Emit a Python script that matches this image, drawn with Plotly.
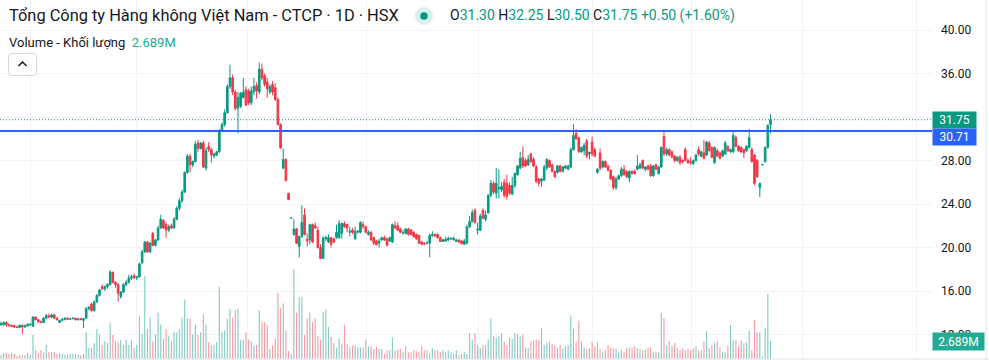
import plotly.graph_objects as go

# ---------------- data ----------------
opens = [
    12.9, 12.9, 13.1, 12.9, 12.85, 12.8, 12.7, 12.65, 12.85, 12.7,
    12.8, 12.9, 12.75, 13.6, 13.35, 13.15, 13.1, 13.5, 13.7, 13.6,
    13.8, 13.5, 13.1, 13.3, 13.4, 13.5, 13.4, 13.45, 13.5, 13.35,
    13.45, 13.3, 13.5, 14.4, 14.8, 14.2, 15.0, 15.6, 16.4, 16.2,
    16.4, 16.6, 17.7, 16.8, 16.6, 15.5, 15.9, 16.6, 16.8, 17.2,
    17.4, 17.2, 17.3, 18.6, 19.6, 20.5, 19.6, 21.3, 20.2, 20.7,
    21.8, 22.5, 22.1, 21.6, 22.0, 21.8, 22.6, 23.6, 24.3, 25.1,
    26.9, 28.4, 27.6, 27.9, 29.6, 29.1, 29.6, 27.3, 29.3, 29.0,
    28.4, 28.5, 28.8, 30.7, 31.3, 32.4, 34.8, 35.6, 34.3, 32.8,
    33.0, 33.8, 34.5, 34.4, 33.3, 34.3, 34.9, 34.3, 36.4, 35.8,
    35.2, 34.3, 35.0, 34.7, 33.6, 31.3, 27.3, 28.1, 25.0, 22.7,
    21.2, 21.7, 20.1, 21.0, 23.0, 20.75, 20.7, 22.1, 22.0, 21.6,
    20.0, 19.0, 20.8, 20.5, 20.9, 20.8, 20.9, 20.9, 21.3, 22.2,
    22.1, 21.4, 21.6, 20.8, 21.4, 21.4, 22.1, 21.9, 21.2, 21.4,
    20.9, 20.6, 20.4, 20.7, 20.9, 20.8, 20.6, 20.5, 22.0, 22.0,
    21.7, 21.3, 21.3, 21.7, 21.6, 21.4, 21.2, 21.1, 20.5, 20.4,
    20.35, 20.4, 21.1, 21.2, 21.2, 20.9, 20.55, 20.6, 20.7, 20.8,
    20.7, 20.55, 20.7, 20.6, 20.3, 20.4, 21.9, 22.4, 23.4, 21.6,
    21.6, 23.4, 22.6, 23.2, 24.8, 25.9, 25.0, 25.4, 25.3, 26.0,
    25.9, 25.7, 24.9, 25.7, 26.7, 27.3, 28.3, 28.0, 27.6, 28.6,
    28.1, 27.4, 26.3, 26.1, 26.2, 27.3, 28.0, 27.6, 27.0, 26.9,
    27.5, 27.0, 27.3, 27.2, 27.4, 29.0, 30.5, 30.1, 28.8, 28.9,
    29.8, 28.6, 29.7, 29.0, 26.9, 28.7, 27.4, 27.9, 27.5, 27.1,
    26.5, 25.5, 26.3, 26.6, 27.2, 27.0, 26.4, 27.0, 27.0, 27.2,
    27.3, 28.0, 27.2, 27.5, 27.5, 26.6, 27.6, 26.8, 27.4, 30.2,
    28.6, 29.0, 28.8, 28.4, 28.0, 28.3, 28.0, 29.0, 28.0, 27.9,
    27.7, 28.0, 29.0, 28.4, 28.7, 28.5, 29.6, 29.2, 27.8, 28.9,
    28.7, 28.4, 28.6, 29.3, 28.8, 28.8, 30.1, 29.3, 29.2, 29.0,
    28.9, 29.2, 29.0, 28.5, 28.05, 25.5, 27.6, 27.9, 29.2, 31.30,
]
highs = [
    13.2, 13.2, 13.2, 13.0, 12.9, 12.9, 12.8, 12.9, 12.9, 12.9,
    13.0, 13.0, 13.7, 13.65, 13.4, 13.3, 13.6, 13.9, 13.95, 13.9,
    13.9, 13.6, 13.35, 13.5, 13.55, 13.55, 13.5, 13.55, 13.55, 13.5,
    13.5, 13.5, 14.5, 14.6, 14.9, 15.1, 15.7, 16.2, 16.6, 16.5,
    16.7, 17.9, 17.8, 16.9, 16.7, 16.0, 16.7, 17.0, 17.5, 17.5,
    17.6, 17.4, 18.6, 19.8, 20.6, 20.6, 20.5, 21.4, 20.8, 22.0,
    23.0, 22.6, 22.3, 22.1, 22.2, 22.8, 23.8, 24.5, 25.3, 27.0,
    28.6, 28.6, 28.0, 29.8, 29.9, 29.7, 29.8, 29.2, 29.7, 29.2,
    28.7, 28.9, 30.9, 31.5, 32.7, 35.0, 36.8, 35.9, 34.5, 34.3,
    34.3, 35.6, 34.8, 34.6, 34.8, 35.6, 35.2, 37.0, 36.9, 36.0,
    35.6, 35.0, 35.3, 35.1, 33.8, 31.4, 29.1, 28.2, 25.0, 22.72,
    22.6, 21.8, 21.1, 23.9, 23.6, 21.3, 22.2, 22.2, 22.3, 21.9,
    20.3, 21.0, 21.1, 21.2, 20.95, 20.9, 22.1, 22.5, 22.3, 22.4,
    22.2, 21.9, 21.8, 21.9, 21.6, 22.4, 22.4, 22.0, 21.6, 21.5,
    21.0, 20.7, 20.8, 21.0, 21.1, 20.9, 21.0, 22.2, 22.4, 22.3,
    21.8, 21.6, 21.8, 21.8, 21.7, 21.5, 21.3, 21.2, 20.6, 20.5,
    20.6, 21.3, 21.5, 21.3, 21.3, 21.0, 20.8, 21.0, 21.0, 20.9,
    21.0, 20.8, 20.75, 20.7, 20.8, 22.1, 22.9, 23.5, 23.6, 22.3,
    23.1, 23.6, 23.4, 24.9, 26.2, 26.1, 27.3, 27.2, 26.0, 26.3,
    26.7, 26.0, 26.5, 26.9, 27.6, 28.8, 29.3, 28.2, 28.5, 28.7,
    28.3, 27.6, 26.4, 26.4, 27.6, 28.2, 28.1, 27.7, 27.1, 27.6,
    27.6, 27.5, 27.6, 27.6, 29.2, 31.35, 30.9, 30.2, 29.3, 29.6,
    30.0, 28.8, 30.2, 29.2, 27.3, 29.1, 28.0, 28.0, 27.6, 27.2,
    26.6, 26.5, 26.7, 27.4, 27.6, 27.1, 27.1, 27.1, 27.2, 28.5,
    27.8, 28.1, 27.5, 27.6, 27.7, 27.6, 27.7, 27.5, 29.3, 30.7,
    29.2, 29.1, 28.9, 28.5, 28.4, 28.5, 28.1, 29.2, 28.2, 28.3,
    28.1, 28.6, 29.3, 28.9, 29.9, 29.8, 29.8, 29.3, 29.3, 29.1,
    28.8, 29.0, 29.8, 29.4, 29.1, 30.8, 30.3, 29.4, 29.3, 29.1,
    29.4, 30.9, 29.2, 28.6, 28.1, 25.95, 27.62, 29.3, 31.3, 32.25,
]
lows = [
    12.8, 12.8, 12.7, 12.8, 12.7, 12.6, 12.6, 12.6, 12.05, 12.6,
    12.7, 12.8, 12.7, 13.3, 13.1, 13.05, 13.05, 13.4, 13.55, 13.5,
    13.45, 13.3, 13.05, 13.2, 13.3, 13.35, 13.35, 13.4, 13.3, 13.3,
    13.3, 12.6, 13.45, 14.2, 14.1, 14.1, 14.9, 15.5, 16.1, 16.0,
    16.2, 16.5, 16.7, 16.3, 15.0, 15.3, 15.8, 16.4, 16.7, 17.0,
    17.1, 17.0, 17.2, 18.5, 19.5, 19.5, 19.5, 20.1, 20.1, 20.6,
    21.7, 21.7, 20.9, 21.4, 21.7, 21.7, 22.5, 23.4, 24.1, 25.0,
    26.8, 26.9, 27.4, 27.8, 28.8, 29.0, 27.3, 27.1, 28.8, 27.8,
    28.2, 28.4, 28.7, 30.6, 31.1, 32.3, 34.6, 34.0, 32.6, 30.5,
    32.8, 33.7, 33.0, 33.1, 33.1, 34.0, 33.7, 34.1, 35.4, 34.8,
    33.8, 34.1, 34.0, 33.5, 31.2, 29.1, 27.2, 26.1, 24.4, 22.7,
    21.1, 20.3, 19.1, 20.9, 21.1, 20.1, 20.3, 20.4, 21.7, 19.9,
    18.95, 18.95, 20.6, 20.4, 20.0, 20.4, 20.8, 20.8, 20.8, 21.8,
    21.4, 21.0, 21.2, 20.7, 21.3, 21.3, 21.7, 21.3, 21.1, 20.6,
    20.2, 20.2, 20.0, 20.6, 20.6, 20.1, 20.5, 20.4, 21.7, 21.5,
    21.3, 21.2, 21.2, 21.1, 21.1, 20.9, 20.7, 20.3, 20.2, 20.2,
    20.3, 19.1, 21.0, 21.0, 20.8, 20.5, 20.5, 20.5, 20.6, 20.7,
    20.65, 20.5, 20.45, 20.3, 20.25, 20.3, 21.8, 22.3, 22.2, 21.2,
    21.5, 22.6, 22.4, 23.1, 24.6, 24.9, 24.5, 24.5, 25.1, 24.6,
    24.4, 24.8, 24.8, 25.5, 26.6, 27.2, 27.3, 27.4, 27.5, 27.8,
    27.4, 25.9, 25.6, 25.6, 26.1, 27.1, 27.3, 26.9, 26.4, 26.8,
    26.9, 26.9, 27.2, 27.1, 27.3, 28.9, 29.9, 28.7, 28.7, 28.5,
    28.2, 28.1, 28.4, 28.3, 26.8, 27.1, 27.3, 27.3, 27.0, 26.2,
    25.3, 25.3, 26.2, 26.5, 26.6, 26.4, 26.0, 26.7, 26.7, 27.1,
    27.2, 27.2, 27.0, 27.1, 26.5, 26.5, 27.1, 26.7, 27.3, 28.4,
    28.4, 28.4, 28.2, 27.8, 27.9, 27.6, 27.7, 27.9, 27.7, 27.6,
    27.6, 27.9, 28.4, 28.3, 28.1, 28.4, 28.8, 28.2, 27.7, 28.3,
    28.1, 28.3, 28.5, 28.8, 28.7, 28.7, 29.2, 28.8, 28.7, 28.2,
    28.8, 29.1, 27.8, 25.7, 26.4, 24.65, 27.6, 27.8, 29.1, 30.50,
]
closes = [
    13.0, 13.1, 12.9, 12.8, 12.75, 12.7, 12.65, 12.85, 12.7, 12.8,
    12.95, 12.95, 13.6, 13.35, 13.15, 13.1, 13.5, 13.75, 13.6, 13.8,
    13.5, 13.35, 13.3, 13.4, 13.5, 13.4, 13.45, 13.5, 13.35, 13.45,
    13.4, 13.45, 14.4, 14.5, 14.2, 15.0, 15.6, 16.1, 16.2, 16.4,
    16.6, 17.75, 16.8, 16.6, 15.8, 15.9, 16.6, 16.8, 17.2, 17.3,
    17.2, 17.3, 18.5, 19.6, 20.5, 19.6, 20.4, 20.2, 20.7, 21.8,
    22.6, 21.8, 21.6, 21.9, 21.8, 22.6, 23.6, 24.3, 25.1, 26.9,
    28.4, 27.6, 27.9, 29.5, 29.1, 29.6, 27.4, 28.9, 29.0, 28.5,
    28.6, 28.8, 30.7, 31.3, 32.4, 34.8, 35.6, 34.3, 32.8, 33.8,
    34.2, 34.3, 33.1, 33.3, 34.4, 34.8, 34.4, 36.4, 35.6, 35.0,
    34.6, 34.8, 34.3, 33.6, 31.3, 29.15, 28.1, 26.15, 24.4, 22.72,
    21.7, 20.4, 21.0, 22.3, 21.2, 20.6, 22.1, 20.5, 21.8, 20.0,
    19.0, 20.9, 20.9, 20.9, 20.3, 20.5, 21.4, 22.2, 22.2, 21.9,
    21.8, 21.5, 21.4, 21.5, 21.5, 22.3, 21.95, 21.4, 21.4, 20.7,
    20.4, 20.25, 20.6, 20.9, 20.7, 20.2, 20.9, 22.1, 21.8, 21.6,
    21.4, 21.35, 21.7, 21.2, 21.2, 21.0, 20.8, 20.4, 20.3, 20.35,
    20.4, 21.1, 21.2, 21.05, 20.9, 20.55, 20.7, 20.75, 20.85, 20.85,
    20.85, 20.7, 20.5, 20.35, 20.6, 21.9, 22.4, 23.2, 22.3, 21.7,
    22.9, 22.7, 23.0, 24.8, 25.9, 25.1, 25.9, 25.5, 25.6, 24.8,
    24.7, 25.0, 25.7, 26.8, 27.5, 28.2, 27.5, 27.5, 28.1, 27.9,
    27.5, 26.1, 25.9, 26.3, 27.4, 28.1, 27.4, 27.0, 26.5, 27.5,
    27.0, 27.4, 27.5, 27.5, 29.0, 30.3, 30.0, 28.8, 29.2, 29.4,
    28.4, 28.75, 28.6, 28.4, 27.2, 27.3, 27.9, 27.4, 27.1, 26.3,
    25.5, 26.3, 26.6, 27.2, 26.7, 26.5, 27.0, 26.8, 26.8, 27.5,
    27.6, 27.3, 27.4, 27.2, 26.6, 27.5, 27.2, 27.4, 29.2, 28.6,
    29.0, 28.5, 28.3, 28.0, 28.3, 27.8, 27.9, 28.0, 27.8, 27.8,
    28.0, 28.5, 28.6, 28.8, 28.2, 29.7, 28.9, 28.3, 29.2, 28.4,
    28.2, 28.9, 29.6, 28.9, 29.0, 30.3, 29.3, 28.9, 28.8, 28.7,
    29.3, 30.1, 27.9, 25.9, 26.5, 25.9, 27.62, 29.2, 31.25, 31.75,
]
# volume, millions of shares
volumes = [
    0.6, 0.95, 0.95, 0.75, 0.95, 0.75, 0.45, 0.6, 0.6, 0.6, 0.95, 0.6,
    3.6, 1.35, 0.95, 1.35, 0.95, 2.1, 1.05, 1.05, 1.05, 0.75, 0.95, 0.75,
    0.6, 0.7, 0.75, 0.75, 0.75, 0.6, 0.6, 0.8, 4.0, 1.65, 1.65, 2.4,
    4.5, 3.7, 2.1, 2.7, 2.4, 5.4, 3.6, 2.7, 2.5, 2.85, 2.1, 2.85,
    2.1, 2.85, 1.65, 2.1, 6.4, 3.75, 12.4, 4.5, 6.2, 2.6, 3.7, 6.9,
    5.1, 3.0, 4.5, 3.4, 2.6, 4.0, 4.0, 4.5, 6.2, 8.9, 6.1, 6.0,
    3.7, 5.1, 3.6, 4.0, 6.7, 5.1, 2.5, 2.0, 2.1, 2.5, 10.8, 4.0,
    4.3, 6.0, 7.5, 6.2, 7.3, 7.5, 2.85, 2.9, 4.0, 2.9, 2.6, 2.0,
    2.1, 7.3, 5.5, 5.5, 5.1, 1.5, 2.0, 3.0, 9.9, 7.6, 8.3, 4.3,
    1.2, 0.7, 13.4, 6.9, 9.2, 9.2, 3.6, 6.1, 6.9, 5.5, 6.1, 3.4,
    2.9, 7.0, 7.4, 4.8, 3.3, 2.4, 1.7, 3.0, 2.2, 5.1, 2.2, 1.7,
    2.0, 2.0, 1.7, 1.7, 1.8, 2.9, 1.9, 1.9, 1.5, 1.8, 1.5, 1.5,
    0.8, 1.3, 1.3, 3.2, 1.3, 1.4, 1.5, 1.0, 1.9, 1.0, 1.0, 1.3,
    1.2, 1.1, 1.9, 1.3, 1.3, 0.9, 1.6, 1.3, 1.3, 1.0, 1.3, 1.0,
    1.3, 1.0, 0.8, 1.3, 0.6, 0.8, 1.1, 0.8, 3.9, 2.9, 3.9, 2.0,
    1.7, 2.1, 2.1, 2.9, 6.1, 3.4, 3.2, 3.4, 3.9, 2.6, 2.1, 3.2,
    3.0, 3.9, 3.7, 3.4, 3.7, 1.7, 1.6, 2.6, 2.8, 2.9, 2.8, 4.6,
    2.1, 2.4, 2.6, 2.2, 2.0, 1.7, 2.1, 1.5, 1.9, 2.0, 6.4, 4.5,
    2.6, 5.7, 2.6, 1.7, 1.5, 1.6, 2.5, 1.9, 2.5, 1.5, 1.0, 1.3,
    2.1, 1.7, 1.5, 1.5, 1.0, 1.3, 1.0, 1.6, 1.7, 1.7, 1.9, 1.6,
    1.5, 1.4, 1.4, 1.7, 1.7, 1.0, 1.1, 1.0, 6.9, 6.1, 2.0, 2.6,
    2.0, 2.4, 1.6, 1.3, 1.6, 1.3, 1.5, 1.3, 1.6, 1.9, 1.3, 1.3,
    2.6, 4.2, 1.6, 2.0, 2.4, 2.6, 1.8, 1.1, 1.0, 2.0, 5.1, 2.8,
    2.9, 1.9, 2.8, 2.4, 2.5, 4.2, 1.3, 5.8, 4.0, 4.0, 0.4, 4.6, 9.7, 2.689,
]
price_ticks = [12, 16, 20, 24, 28, 32, 36, 40]
price_tick_text = ["12.00", "16.00", "20.00", "24.00", "28.00", "", "36.00", "40.00"]
last_close = 31.75
level_line = 30.71
last_volume = 2.689
title_text = "Tổng Công ty Hàng không Việt Nam - CTCP · 1D · HSX"

# ---------------- styling ----------------
UP = "#089981"
DOWN = "#F23645"
TXT = "#131722"
GRID = "#f0f3fa"
FONT = "Roboto"
PLOT_W = 932.0
PLOT_H = 359.0

def px(xp):
    return xp / PLOT_W

def py(yp):
    return 1 - yp / PLOT_H

idx = list(range(len(closes)))
vol_colors = ["rgba(8,153,129,0.5)" if c >= o else "rgba(242,54,69,0.5)"
              for o, c in zip(opens, closes)]

fig = go.Figure()
fig.add_trace(go.Bar(x=idx, y=volumes, yaxis="y", width=0.42,
                     marker=dict(color=vol_colors, line=dict(width=0)),
                     hoverinfo="skip"))
fig.add_trace(go.Candlestick(x=idx, open=opens, high=highs, low=lows, close=closes,
                             yaxis="y2", whiskerwidth=0,
                             increasing=dict(line=dict(color=UP, width=1), fillcolor=UP),
                             decreasing=dict(line=dict(color=DOWN, width=1), fillcolor=DOWN),
                             hoverinfo="skip"))

grid_x = [11.15, 50.97, 92.4, 137.3, 179.4, 222.3, 259.5, 301.1, 343.9]

fig.update_layout(
    width=989, height=360,
    margin=dict(l=0, r=57, t=0, b=1, pad=0),
    paper_bgcolor="white", plot_bgcolor="white",
    showlegend=False, hovermode=False,
    boxgap=0.22, boxgroupgap=0.22,
    xaxis=dict(range=[-0.3756, 349.66], showticklabels=False, tickvals=grid_x,
               showgrid=True, gridcolor=GRID, gridwidth=1, zeroline=False,
               showline=False, ticks="", rangeslider=dict(visible=False),
               fixedrange=True),
    yaxis=dict(range=[0, 53.63], visible=False, fixedrange=True),
    yaxis2=dict(overlaying="y", side="right", range=[9.747, 42.759],
                tickvals=price_ticks, ticktext=price_tick_text,
                showgrid=True, gridcolor=GRID, gridwidth=1, zeroline=False,
                showline=False, ticks="", ticklabelstandoff=8,
                tickfont=dict(family=FONT, size=12, color=TXT), fixedrange=True),
)

shapes = []
shapes.append(dict(type="line", xref="paper", x0=0, x1=1, yref="y2",
                   y0=last_close, y1=last_close,
                   line=dict(color=UP, width=1, dash="1px,2px")))
shapes.append(dict(type="line", xref="paper", x0=0, x1=1, yref="y2",
                   y0=level_line, y1=level_line,
                   line=dict(color="#2962FF", width=2)))
shapes.append(dict(type="line", xref="paper", yref="paper", x0=px(986), x1=px(986),
                   y0=-0.01, y1=1.01, line=dict(color="#e0e3eb", width=1)))
shapes.append(dict(type="line", xref="paper", yref="paper", x0=0, x1=px(989),
                   y0=0, y1=0, line=dict(color="#e0e3eb", width=1)))
# market status dot
shapes.append(dict(type="circle", xref="paper", yref="paper", xsizemode="pixel",
                   ysizemode="pixel", xanchor=px(424), yanchor=py(16),
                   x0=-9, x1=9, y0=-9, y1=9,
                   fillcolor="rgba(8,153,129,0.15)", line=dict(width=0)))
shapes.append(dict(type="circle", xref="paper", yref="paper", xsizemode="pixel",
                   ysizemode="pixel", xanchor=px(424), yanchor=py(16),
                   x0=-3.8, x1=3.8, y0=-3.8, y1=3.8,
                   fillcolor=UP, line=dict(width=0)))
# collapse button
shapes.append(dict(type="path", xref="paper", yref="paper", xsizemode="pixel",
                   ysizemode="pixel", xanchor=px(22.5), yanchor=py(64.5),
                   path="M -11,-11 L 11,-11 Q 14,-11 14,-8 L 14,8 Q 14,11 11,11 L -11,11 "
                        "Q -14,11 -14,8 L -14,-8 Q -14,-11 -11,-11 Z",
                   fillcolor="white", line=dict(color="#d1d4dc", width=1)))
shapes.append(dict(type="path", xref="paper", yref="paper", xsizemode="pixel",
                   ysizemode="pixel", xanchor=px(22.5), yanchor=py(64),
                   path="M -4,-2 L 0,2 L 4,-2",
                   line=dict(color=TXT, width=1.5)))
fig.update_layout(shapes=shapes)

ann = []
ann.append(dict(xref="paper", yref="paper", x=px(7), y=py(16), xanchor="left",
                yanchor="middle", showarrow=False, text=title_text,
                font=dict(family=FONT, size=16.4, color=TXT)))
g = "<span style='color:%s'>%%s</span>" % UP
ohlc = ("O" + g % "31.30" + " H" + g % "32.25" + " L" + g % "30.50" +
        " C" + g % "31.75" + " " + g % "+0.50 (+1.60%)")
ann.append(dict(xref="paper", yref="paper", x=px(448), y=py(16), xanchor="left",
                yanchor="middle", showarrow=False, text=ohlc,
                font=dict(family=FONT, size=14, color=TXT)))
ann.append(dict(xref="paper", yref="paper", x=px(7), y=py(42), xanchor="left",
                yanchor="middle", showarrow=False,
                text="Volume - Khối lượng&nbsp;&nbsp;<span style='color:#22ab94'>2.689M</span>",
                font=dict(family=FONT, size=13, color=TXT)))
# price-scale labels
ann.append(dict(xref="paper", yref="y2", x=1, y=last_close, xanchor="left",
                yanchor="middle", showarrow=False, text="31.75", bgcolor=UP,
                width=43, height=16, borderpad=0, align="center",
                font=dict(family=FONT, size=12, color="white")))
ann.append(dict(xref="paper", yref="y2", x=1, y=level_line, yshift=-6,
                xanchor="left", yanchor="middle", showarrow=False, text="30.71",
                bgcolor="#2962FF", width=43, height=16, borderpad=0, align="center",
                font=dict(family=FONT, size=12, color="white")))
ann.append(dict(xref="paper", yref="y", x=1, y=last_volume, xanchor="left",
                yanchor="middle", showarrow=False, text="2.689M", bgcolor="#22ab94",
                width=51, height=17, borderpad=0, align="center",
                font=dict(family=FONT, size=12, color="white")))
fig.update_layout(annotations=ann)

fig.write_html("out.html", config={"displayModeBar": False},
               post_script="document.body.style.margin='0';document.body.style.padding='0';")
